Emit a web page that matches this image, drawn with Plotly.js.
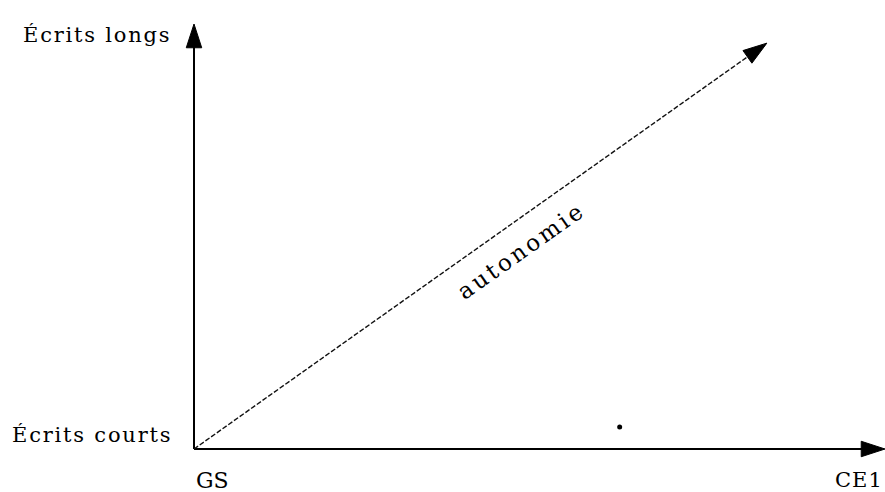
<!DOCTYPE html>
<html>
<head>
<meta charset="utf-8">
<script src="https://cdn.plot.ly/plotly-3.0.1.min.js"></script>
<style>
  html, body { margin: 0; padding: 0; background: #ffffff; }
  #chart { width: 885px; height: 492px; }
</style>
</head>
<body>
<div id="chart"></div>
<script>
// ---- data ----
const xLevels = ['GS', 'CE1'];
const xLevelPos = [0, 1];
const yLevels = ['Écrits courts', 'Écrits longs'];
const yLevelPos = [0, 1];
const trendLabel = 'autonomie';
const trendX = [0, 0.829];
const trendY = [0, 0.955];
const speckX = [0.616];
const speckY = [0.052];

// ---- drawing ----
const FONT = 'DejaVu Serif, Liberation Serif, serif';
const arrowMarker = (n) => ({
  symbol: Array.from({length: n}, (_, i) => i === n - 1 ? 'arrow' : 'circle'),
  size: Array.from({length: n}, (_, i) => i === n - 1 ? 25 : 0),
  angleref: 'previous',
  color: '#000000',
  opacity: 1,
  line: {width: 1, color: '#000000'}
});

const traces = [
  { // horizontal axis
    x: xLevelPos, y: [0, 0], mode: 'lines+markers',
    line: {color: '#000', width: 2}, marker: arrowMarker(2),
    cliponaxis: false, hoverinfo: 'skip', showlegend: false
  },
  { // vertical axis
    x: [0, 0], y: yLevelPos, mode: 'lines+markers',
    line: {color: '#000', width: 2}, marker: arrowMarker(2),
    cliponaxis: false, hoverinfo: 'skip', showlegend: false
  },
  { // autonomie trend
    x: trendX, y: trendY, mode: 'lines+markers',
    line: {color: '#111', width: 1.4, dash: '5px,2px'}, marker: arrowMarker(2),
    cliponaxis: false, hoverinfo: 'skip', showlegend: false
  },
  { // small speck
    x: speckX, y: speckY, mode: 'markers',
    marker: {color: '#000', size: 5, symbol: 'circle'},
    hoverinfo: 'skip', showlegend: false
  }
];

const sp = (t, ls) => '<span style="letter-spacing:' + ls + 'px">' + t + '</span>';
const annotations = [
  {x: 0, y: yLevelPos[1], text: sp(yLevels[1], 1.8), xanchor: 'right', yanchor: 'middle', xshift: -21, yshift: -11,
   showarrow: false, font: {family: FONT, size: 21, color: '#000'}},
  {x: 0, y: yLevelPos[0], text: sp(yLevels[0], 1.8), xanchor: 'right', yanchor: 'middle', xshift: -20, yshift: 14,
   showarrow: false, font: {family: FONT, size: 21, color: '#000'}},
  {x: xLevelPos[0], y: 0, text: xLevels[0], xanchor: 'left', yanchor: 'middle', xshift: 0, yshift: -31,
   showarrow: false, font: {family: FONT, size: 22, color: '#000'}},
  {x: xLevelPos[1], y: 0, text: sp(xLevels[1], 1), xanchor: 'left', yanchor: 'middle', xshift: -52, yshift: -31,
   showarrow: false, font: {family: FONT, size: 21, color: '#000'}},
  {x: trendX[1] * 0.57, y: trendY[1] * 0.57, text: sp(trendLabel, 3), xanchor: 'center', yanchor: 'middle',
   yshift: -33, textangle: -35.3, showarrow: false, font: {family: FONT, size: 23, color: '#000'}}
];

const layout = {
  width: 885, height: 492, autosize: false,
  margin: {l: 0, r: 0, t: 0, b: 0, pad: 0},
  paper_bgcolor: '#ffffff', plot_bgcolor: '#ffffff',
  xaxis: {range: [-194 / 691, 1], visible: false, showgrid: false, zeroline: false, fixedrange: true},
  yaxis: {range: [-43 / 425, 449 / 425], visible: false, showgrid: false, zeroline: false, fixedrange: true},
  annotations: annotations,
  showlegend: false
};

Plotly.newPlot('chart', traces, layout, {displayModeBar: false, staticPlot: true});
</script>
</body>
</html>
